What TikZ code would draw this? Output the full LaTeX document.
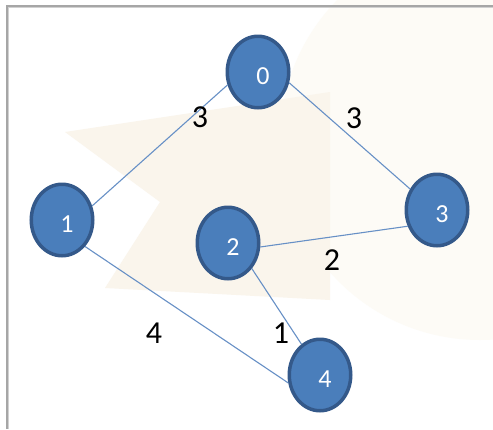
\documentclass[tikz,border=0pt]{standalone}
\usepackage{fontspec}
\setmainfont{Carlito}
\usetikzlibrary{shapes.geometric}
\definecolor{nodefill}{HTML}{4A7EBB}
\definecolor{nodeline}{HTML}{34598A}
\definecolor{edgecol}{HTML}{6790C6}
\definecolor{creamA}{HTML}{FAF5EC}
\definecolor{creamB}{HTML}{FDFBF6}
\newcommand{\vfont}{\fontsize{26pt}{26pt}\selectfont}
\newcommand{\wfont}{\fontsize{32pt}{32pt}\selectfont}
\tikzset{
  vertex/.style={ellipse, fill=nodefill, draw=nodeline, line width=3.5pt,
    minimum width=61.5pt, minimum height=71.5pt, inner sep=0pt},
  vlabel/.style={text=white, font=\vfont},
  edge/.style={draw=edgecol, line width=1.1pt},
  weight/.style={text=black, font=\wfont, inner sep=0pt},
}
\begin{document}
\begin{tikzpicture}[x=1pt,y=-1pt]
\useasboundingbox (0,0) rectangle (493,429);
\fill[white] (0,0) rectangle (493,429);
% faint watermark background
\fill[creamB] (480,140) circle (200);
\fill[creamA] (65,132) -- (330,92) -- (330,300) -- (105,288) -- (160,202) -- cycle;
% frame
\draw[color=black!35, line width=2pt] (6.5,429) -- (6.5,5.5) -- (493,5.5);
\draw[color=black!18, line width=1pt] (8.5,429) -- (8.5,7.5) -- (493,7.5);
% vertices
\node[vertex, label={[vlabel,xshift=5pt,yshift=-4pt]center:0}] (n0) at (258,72) {};
\node[vertex, label={[vlabel,xshift=5pt,yshift=-4pt]center:1}] (n1) at (62,220) {};
\node[vertex, label={[vlabel,xshift=5pt,yshift=-4pt]center:2}] (n2) at (228,243) {};
\node[vertex, label={[vlabel,xshift=5pt,yshift=-4pt]center:3}] (n3) at (437,210) {};
\node[vertex, label={[vlabel,xshift=5pt,yshift=-4pt]center:4}] (n4) at (320,375) {};
% edges
\draw[edge] (n0.203) -- (n1.25);
\draw[edge] (n0.341) -- (n3.142);
\draw[edge] (n2.353) -- (n3.209);
\draw[edge] (n1.311) -- (n4.194);
\draw[edge] (n2.313) -- (n4.121);
% weights
\node[weight] (w01) at (200,117) {3};
\node[weight] (w03) at (354,118) {3};
\node[weight] (w23) at (332,260) {2};
\node[weight] (w14) at (154,333) {4};
\node[weight] (w24) at (281,333) {1};
\end{tikzpicture}
\end{document}
